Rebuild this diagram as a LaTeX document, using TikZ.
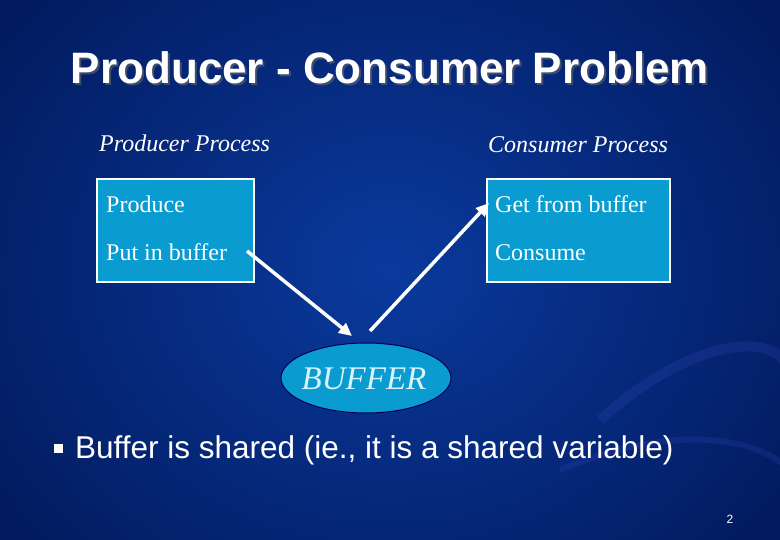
\documentclass[tikz,border=0pt]{standalone}
\usepackage{fontspec}
\setmainfont{Liberation Serif}
\setsansfont{Liberation Sans}
\usetikzlibrary{shapes.geometric,arrows.meta}
\definecolor{bgin}{HTML}{0A3A9E}
\definecolor{bgout}{HTML}{021A5E}
\definecolor{boxc}{HTML}{0A9CD0}
\begin{document}
\begin{tikzpicture}[x=1pt,y=-1pt,
  lbl/.style={font=\itshape\fontsize{24}{24}\selectfont, text=white, inner sep=0, anchor=base west},
  btxt/.style={font=\fontsize{24}{24}\selectfont, text=white, inner sep=0, anchor=base west},
  box/.style={draw=white, line width=1.5pt, fill=boxc},
  arr/.style={draw=white, line width=3.5pt, -{Triangle[length=13pt,width=12pt]}}]
\useasboundingbox (0,0) rectangle (780,540);
\shade[inner color=bgin, outer color=bgout] (-100,-150) rectangle (880,690);
\begin{scope}[opacity=0.12]
\draw[line width=10pt, color=blue!60] (600,420) .. controls (700,330) and (790,330) .. (790,380);
\draw[line width=6pt, color=blue!60] (560,470) .. controls (680,420) and (760,440) .. (790,470);
\end{scope}
\node[font=\sffamily\bfseries\fontsize{44}{44}\selectfont, text=black!60, opacity=0.6] at (392,70) {Producer - Consumer Problem};
\node[font=\sffamily\bfseries\fontsize{44}{44}\selectfont, text=white] (title) at (390,68) {Producer - Consumer Problem};
\node[lbl] (pp) at (99,152) {Producer Process};
\node[lbl] (cp) at (488,153) {Consumer Process};
\draw[box] (97,179) rectangle (254,282);
\draw[box] (487,179) rectangle (670,282);
\node[btxt] (p1) at (106,213) {Produce};
\node[btxt] (p2) at (106,261) {Put in buffer};
\node[btxt] (c1) at (495,213) {Get from buffer};
\node[btxt] (c2) at (495,261) {Consume};
\node[ellipse, draw=black!70!blue, line width=1pt, fill=boxc, minimum width=170pt, minimum height=70pt, inner sep=0] (buf) at (366,378) {};
\node[font=\itshape\fontsize{33}{33}\selectfont, text=white!85!cyan] at (364,379) {BUFFER};
\coordinate (a1) at (247,251);
\coordinate (a2) at (352,336);
\coordinate (b1) at (370,331);
\coordinate (b2) at (489,203);
\draw[arr] (a1) -- (a2);
\draw[arr] (b1) -- (b2);
\fill[white] (54,444) rectangle (63,453);
\node[font=\sffamily\fontsize{31.5}{31.5}\selectfont, text=white, anchor=base west, inner sep=0] (bt) at (75,458) {Buffer is shared (ie., it is a shared variable)};
\node[font=\sffamily\fontsize{12}{12}\selectfont, text=white, anchor=base] at (730,523) {2};
\end{tikzpicture}
\end{document}
